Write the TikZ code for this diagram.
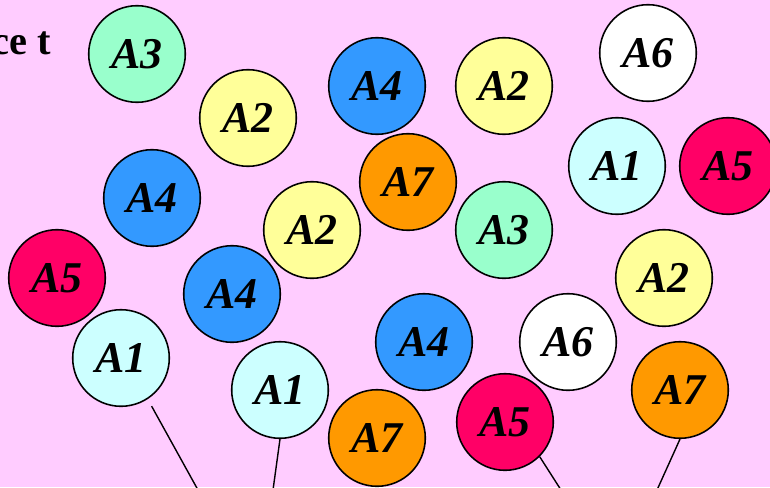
\documentclass[tikz,border=0pt]{standalone}
\usepackage{fontspec}
\setmainfont{Liberation Serif}
\usepackage{xcolor}
\usetikzlibrary{positioning, calc}
\definecolor{bgpink}{HTML}{FFCCFF}
\definecolor{ballyellow}{HTML}{FFFF99}
\definecolor{ballblue}{HTML}{3399FF}
\definecolor{ballorange}{HTML}{FF9900}
\definecolor{ballgreen}{HTML}{99FFCC}
\definecolor{ballcyan}{HTML}{CCFFFF}
\definecolor{ballred}{HTML}{FF0066}
\tikzset{
    ball/.style={circle, draw, line width=0.9pt, minimum size=1.932cm, inner sep=0pt,
        font=\fontsize{25}{28}\selectfont\bfseries\itshape},
    tie/.style={line width=0.8pt}
}

\begin{document}
\begin{tikzpicture}[x=0.02cm, y=-0.02cm,
    aone/.style={ball, fill=ballcyan},
    atwo/.style={ball, fill=ballyellow},
    athree/.style={ball, fill=ballgreen},
    afour/.style={ball, fill=ballblue},
    afive/.style={ball, fill=ballred},
    asix/.style={ball, fill=white},
    aseven/.style={ball, fill=ballorange}]

    % Background
    \fill [bgpink] (0,0) rectangle (770,487);
    \useasboundingbox (0,0) rectangle (770,487);
    \clip (0,0) rectangle (770,487);

    % Cut-off heading
    \node (head) [anchor=base east, inner sep=0pt, font=\fontsize{23}{26}\selectfont\bfseries] at (51,54) {ce t};

    % Balls, top to bottom
    \node (a6a) [asix] at (648,53) {A6};
    \node (a3a) [athree] at (137,54) {A3};
    \node (a4a) [afour] at (377,86) {A4};
    \node (a2a) [atwo] at (504,86) {A2};
    \node (a2b) [atwo] at (248,118) {A2};
    \node (a1a) [aone] at (617,166) {A1};
    \node (a5a) [afive] at (728,166) {A5};
    \node (a7a) [aseven] at (408,182) {A7};
    \node (a4b) [afour] at (152,198) {A4};
    \node (a2c) [atwo] at (312,230) {A2};
    \node (a3b) [athree] at (504,230) {A3};
    \node (a2d) [atwo] at (664,278) {A2};
    \node (a5b) [afive] at (57,278) {A5};
    \node (a4c) [afour] at (232,294) {A4};
    \node (a4d) [afour] at (424,342) {A4};
    \node (a6b) [asix] at (568,342) {A6};
    \node (a1b) [aone] at (121,358) {A1};
    \node (a1c) [aone] at (280,390) {A1};
    \node (a7b) [aseven] at (680,390) {A7};
    \node (a5c) [afive] at (505,422) {A5};
    \node (a7c) [aseven] at (377,438) {A7};

    % Free ends at the bottom edge
    \coordinate (e1) at (198,490);
    \coordinate (e2) at (273,490);
    \coordinate (e3) at (561,490);
    \coordinate (e4) at (657,490);

    % Strings
    \draw [tie, shorten <=0.16cm] (a1b.-57) -- (e1);
    \draw [tie] (a1c.south) -- (e2);
    \draw [tie] (a5c.-45) -- (e3);
    \draw [tie] (a7b.south) -- (e4);
\end{tikzpicture}
\end{document}
